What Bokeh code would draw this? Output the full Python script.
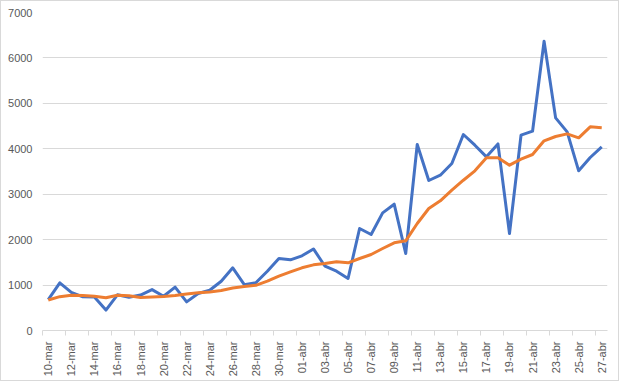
import math
import pandas as pd
from bokeh.plotting import figure
from bokeh.models import Range1d, FixedTicker, ColumnDataSource
from bokeh.embed import file_html
from bokeh.resources import INLINE

# ---- data ----
start_date = "2020-03-10"
end_date = "2020-04-27"
month_abbr = {3: "mar", 4: "abr"}

daily = [680, 1050, 840, 742, 735, 450, 785, 730, 780, 900, 755, 955, 630, 815,
         885, 1085, 1380, 1010, 1050, 1305, 1585, 1556,
         1644, 1795, 1415, 1305, 1145, 2245, 2113, 2590, 2780, 1695, 4094, 3302,
         3419, 3676, 4314, 4079, 3823, 4108, 2135, 4299, 4387, 6368, 4681, 4373,
         3515, 3808, 4043]
average = [670, 745, 775, 770, 755, 720, 775, 765, 725, 740, 750, 770, 805, 830,
           850, 880, 935, 968, 995, 1085, 1196, 1291,
           1380, 1445, 1474, 1511, 1489, 1585, 1673, 1805, 1930, 1974, 2355, 2685,
           2854, 3088, 3308, 3515, 3801, 3801, 3639, 3771, 3874, 4175, 4270, 4329,
           4241, 4483, 4461]
y_ticks = [0, 1000, 2000, 3000, 4000, 5000, 6000, 7000]

dates = pd.date_range(start_date, end_date, freq="D")
labels = [f"{d.day:02d}-{month_abbr[d.month]}" for d in dates]
idx = list(range(len(labels)))

src = ColumnDataSource(dict(x=idx, daily=daily, avg=average))

FONT = "Liberation Sans"
GRID = "#d9d9d9"
TXT = "#595959"

p = figure(frame_width=565, frame_height=318, output_backend="svg",
           toolbar_location=None,
           x_range=Range1d(-0.5, len(labels) - 0.5), y_range=Range1d(0, 7000),
           min_border_left=41, min_border_right=11, min_border_top=11,
           min_border_bottom=50, styles={"border": "1px solid #d9d9d9"})
p.outline_line_color = None
p.background_fill_color = "white"
p.border_fill_color = "white"

p.line("x", "daily", source=src, line_color="#4472C4", line_width=3,
       line_join="round")
p.line("x", "avg", source=src, line_color="#ED7D31", line_width=3,
       line_join="round")

# x axis
major = list(range(0, len(labels), 2))
minor = [i - 0.5 for i in range(0, len(labels) + 1, 2)]
p.xaxis.ticker = FixedTicker(ticks=major, minor_ticks=minor)
p.xaxis.major_label_overrides = {i: labels[i] for i in major}
p.xaxis.major_label_orientation = math.pi / 2
p.xaxis.major_tick_out = 0
p.xaxis.major_tick_in = 0
p.xaxis.minor_tick_out = 5
p.xaxis.minor_tick_in = 0
p.xaxis.minor_tick_line_color = GRID
p.xaxis.axis_line_color = GRID
p.xaxis.major_label_standoff = 6
p.xaxis.major_label_text_font = FONT
p.xaxis.major_label_text_font_size = "11px"
p.xaxis.major_label_text_color = TXT
p.xgrid.grid_line_color = None

# y axis
p.yaxis.ticker = FixedTicker(ticks=y_ticks)
p.yaxis.axis_line_color = None
p.yaxis.major_tick_out = 0
p.yaxis.major_tick_in = 0
p.yaxis.minor_tick_line_color = None
p.yaxis.major_label_standoff = 10
p.yaxis.major_label_text_font = FONT
p.yaxis.major_label_text_font_size = "11px"
p.yaxis.major_label_text_color = TXT
p.ygrid.grid_line_color = GRID
p.ygrid.grid_line_width = 1

open("out.html", "w").write(file_html(p, INLINE))
